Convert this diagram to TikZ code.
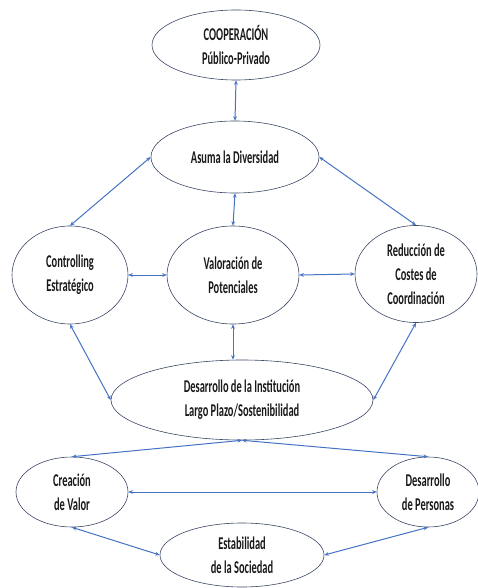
\documentclass[tikz,border=0pt]{standalone}
\usepackage{fontspec}
\setmainfont[FakeStretch=0.58]{Carlito}
\usetikzlibrary{shapes.geometric,arrows.meta}
\definecolor{linkblue}{HTML}{4472C4}
\definecolor{rimcol}{HTML}{3A4666}
\begin{document}
\begin{tikzpicture}[x=1pt,y=-1pt,
  oval/.style={ellipse,draw=rimcol,line width=0.6pt,inner sep=0pt,align=center,
    font=\fontsize{18}{24}\selectfont\bfseries,text=black!90},
  link/.style={draw=linkblue,line width=1pt,
    {Stealth[length=4.5pt,width=3.8pt]}-{Stealth[length=4.5pt,width=3.8pt]}}]
\useasboundingbox (0,0) rectangle (478,588);
\node[oval,minimum width=168pt,minimum height=70pt] (coop) at (236,45) {COOPERACIÓN\\Público-Privado};
\node[oval,minimum width=168pt,minimum height=72pt] (asuma) at (235,157) {Asuma la Diversidad};
\node[oval,minimum width=116pt,minimum height=98pt] (ctrl) at (70,275) {Controlling\\Estratégico};
\node[oval,minimum width=132pt,minimum height=98pt] (valo) at (233,275) {Valoración de\\Potenciales};
\node[oval,minimum width=122pt,minimum height=97pt] (redu) at (416,274) {Reducción de\\Costes de\\Coordinación};
\node[oval,minimum width=262pt,minimum height=80pt] (inst) at (242,400) {Desarrollo de la Institución\\Largo Plazo/Sostenibilidad};
\node[oval,minimum width=112pt,minimum height=70pt] (crea) at (72,492) {Creación\\de Valor};
\node[oval,minimum width=102pt,minimum height=70pt] (pers) at (428,492) {Desarrollo\\de Personas};
\node[oval,minimum width=164pt,minimum height=64pt] (esta) at (242,555) {Estabilidad\\de la Sociedad};
\draw[link] (coop.south) -- (asuma.north);
\draw[link] (asuma.west) -- (ctrl.north);
\draw[link] (asuma.east) -- (redu.north);
\draw[link] (asuma.south) -- (valo.north);
\draw[link] (ctrl.east) -- (valo.west);
\draw[link] (valo.east) -- (redu.west);
\draw[link] (valo.south) -- (inst.north -| valo.south);
\draw[link] (ctrl.south) -- (inst.west);
\draw[link] (redu.south) -- (inst.east);
\draw[link] (inst.south) -- (crea.north);
\draw[link] (inst.south) -- (pers.north);
\draw[link] (crea.east) -- (pers.west);
\draw[link] (crea.south) -- (esta.west);
\draw[link] (pers.south) -- (esta.east);
\end{tikzpicture}
\end{document}
